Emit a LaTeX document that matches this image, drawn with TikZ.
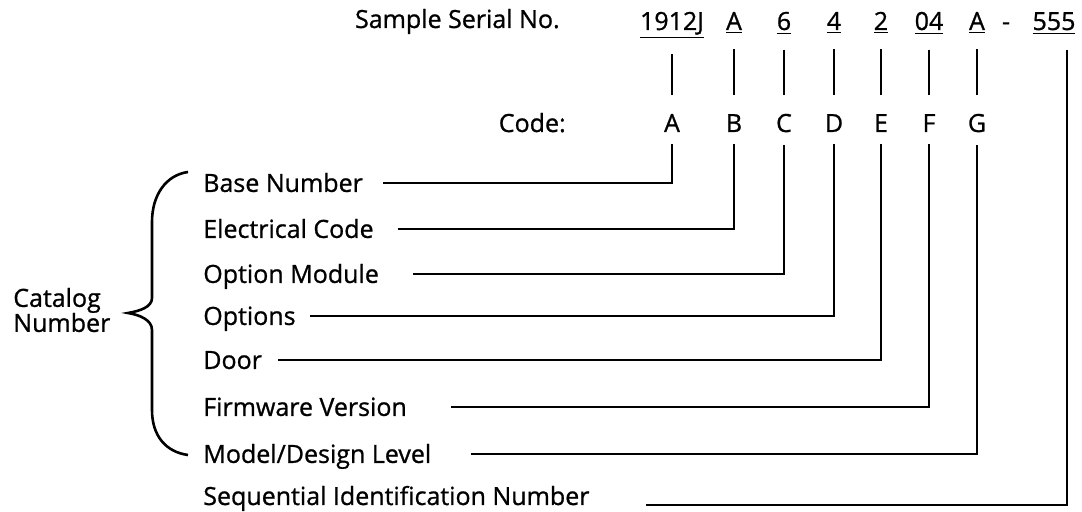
\documentclass[tikz,border=0pt]{standalone}
\usepackage{fontspec}
\setmainfont{Open Sans}[FakeBold=0.9]
\begin{document}
\begin{tikzpicture}[x=0.5pt,y=-0.5pt,line width=1.3pt,
    txt/.style={inner sep=0pt,font=\fontsize{12.5}{14}\selectfont},
    part/.style={txt,anchor=base},
    code/.style={txt,anchor=base},
    lbl/.style={txt,anchor=west,text height=8.9pt,text depth=0pt},
    tie/.style={shorten >=5.5pt}]
\useasboundingbox (0,0) rectangle (1082,512);
% serial number and its code letters
\node[txt,anchor=base east] (sample) at (561,28) {Sample Serial No.};
\foreach \nm/\x/\t in {s1/672/1912J,s2/734/A,s3/784/6,s4/834/4,s5/881/2,s6/929/04,s7/977/A,s8/1054/555}
    \node[part] (\nm) at (\x,30) {\underline{\t}};
\node[part] (dash) at (1006,30) {-};
\node[txt,anchor=base east] (codelbl) at (567,132) {Code:};
\foreach \nm/\x/\t in {c1/672/A,c2/734/B,c3/784/C,c4/834/D,c5/881/E,c6/929/F,c7/977/G}
    \node[code] (\nm) at (\x,132) {\t};
\foreach \i in {1,...,7}
    \draw[shorten <=7pt,shorten >=9pt] (s\i.south) -- (c\i.north);
% field names
\node[lbl] (base) at (202,183) {Base Number};
\node[lbl] (elec) at (202,229) {Electrical Code};
\node[lbl] (optmod) at (202,274) {Option Module};
\node[lbl] (opts) at (202,316) {Options};
\node[lbl] (door) at (202,360) {Door};
\node[lbl] (firm) at (202,407) {Firmware Version};
\node[lbl] (model) at (202,454) {Model/Design Level};
\node[lbl,text depth=8.9pt] (seq) at (202,505) {Sequential Identification Number};
\draw[tie] (383,0 |- base.east) -| (c1.south);
\draw[tie] (398,0 |- elec.east) -| (c2.south);
\draw[tie] (413,0 |- optmod.east) -| (c3.south);
\draw[tie] (310,0 |- opts.east) -| (c4.south);
\draw[tie] (278,0 |- door.east) -| (c5.south);
\draw[tie] (451,0 |- firm.east) -| (c6.south);
\draw[tie] (471,0 |- model.east) -| (c7.south);
\draw[shorten >=7pt] (646,0 |- seq.east) -| ([xshift=6.5pt]s8.south);
% catalog brace
\node[txt,anchor=west,align=left,font=\fontsize{12.5}{12.5}\selectfont] (catalog) at (12,310) {Catalog\\Number};
\draw (188,172) .. controls (166,175) and (152,195) .. (152,222) -- (152,298)
    .. controls (152,307) and (140,311) .. (128,313)
    .. controls (140,315) and (152,320) .. (152,330) -- (152,410)
    .. controls (152,436) and (166,452) .. (188,455);
\end{tikzpicture}
\end{document}
